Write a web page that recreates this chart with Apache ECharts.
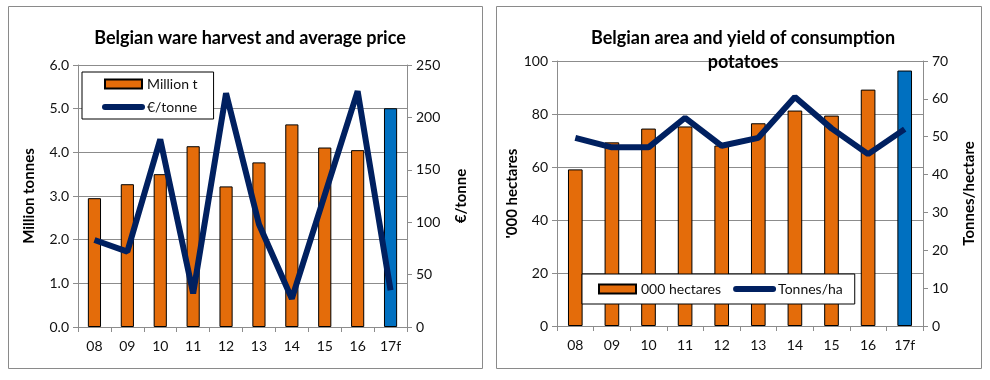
<!DOCTYPE html>
<html><head><meta charset="utf-8">
<script src="https://cdn.jsdelivr.net/npm/echarts@6/dist/echarts.min.js"></script>
<style>html,body{margin:0;padding:0;background:#fff}#c{width:990px;height:380px}</style>
</head><body><div id="c"></div>
<script>
var categories = ['08','09','10','11','12','13','14','15','16','17f'];
var harvestMt = [2.95, 3.27, 3.50, 4.14, 3.22, 3.77, 4.64, 4.11, 4.05, 5.01];
var priceEurT = [83, 72, 179, 32, 223, 98, 27, 126, 225, 35];
var areaKha = [59.1, 69.3, 74.5, 75.3, 68.1, 76.5, 81.3, 79.4, 89.2, 96.4];
var yieldTHa = [49.7, 47.2, 47.2, 55.0, 47.6, 49.7, 60.5, 52.2, 45.4, 52.0];

var ORANGE = '#E46C0A', BLUE = '#0070C0', NAVY = '#002060', GRID = '#8C8C8C', TXT = '#111';
var FONT = 'Lato, "Open Sans", sans-serif';

function barData(vals){
  return vals.map(function(v,i){
    return i === vals.length-1 ? {value:v, itemStyle:{color:BLUE}} : v;
  });
}
function xAxis(gi){
  return {type:'category', gridIndex:gi, data:categories,
    axisLine:{lineStyle:{color:GRID}}, axisTick:{show:true, length:5, interval:0, lineStyle:{color:GRID}},
    axisLabel:{color:TXT, fontSize:14, fontFamily:FONT, margin:12}};
}
function yAxis(gi, min, max, interval, name, pos, gap, fmt, split){
  return {type:'value', gridIndex:gi, min:min, max:max, interval:interval, position:pos,
    name:name, nameLocation:'middle', nameGap:gap, nameRotate:90,
    nameTextStyle:{color:'#000', fontWeight:'bold', fontSize:15, fontFamily:FONT},
    axisLine:{show:true, lineStyle:{color:GRID}}, axisTick:{show:true, length:5, lineStyle:{color:GRID}},
    axisLabel:{color:TXT, fontSize:14, fontFamily:FONT, margin:9, formatter:fmt},
    splitLine:{show:split, lineStyle:{color:GRID, width:1}}};
}
function lineLegend(name){
  return {name:name, itemStyle:{opacity:0}, lineStyle:{width:6, color:NAVY, cap:'round'}};
}
function barLegend(name){
  return {name:name, icon:'rect'};
}
var chart = echarts.init(document.getElementById('c'));
chart.setOption({
  animation:false,
  graphic:[
    {type:'rect', shape:{x:8.5,y:6.5,width:474,height:362}, style:{fill:'none', stroke:'#8a8a8a', lineWidth:1}, z:-1},
    {type:'rect', shape:{x:496.5,y:6.5,width:485,height:362}, style:{fill:'none', stroke:'#8a8a8a', lineWidth:1}, z:-1}
  ],
  title:[
    {text:'Belgian ware harvest and average price', left:245, textAlign:'center', top:21,
     textStyle:{fontSize:18, fontWeight:'bold', color:'#000', fontFamily:FONT, lineHeight:24}},
    {text:'Belgian area and yield of consumption\npotatoes', left:738, textAlign:'center', top:21,
     textStyle:{fontSize:18, fontWeight:'bold', color:'#000', fontFamily:FONT, lineHeight:24}}
  ],
  grid:[
    {left:78, right:583, top:65, bottom:53},
    {left:557, right:67, top:61, bottom:54}
  ],
  xAxis:[xAxis(0), xAxis(1)],
  yAxis:[
    yAxis(0, 0, 6, 1, 'Million tonnes', 'left', 41, function(v){return v.toFixed(1);}, true),
    yAxis(0, 0, 250, 50, '€/tonne', 'right', 47, null, false),
    yAxis(1, 0, 100, 20, "'000 hectares", 'left', 34, null, true),
    yAxis(1, 0, 70, 10, 'Tonnes/hectare', 'right', 39, null, false)
  ],
  legend:[
    {orient:'vertical', left:82, top:72, data:[barLegend('Million t'), lineLegend('€/tonne')],
     backgroundColor:'#fff', borderColor:'#000', borderWidth:1, padding:[5,16,5,20],
     itemWidth:37, itemHeight:9, itemGap:9,
     textStyle:{color:TXT, fontSize:14, fontFamily:FONT}},
    {orient:'horizontal', left:582, top:274, data:[barLegend('000 hectares'), lineLegend('Tonnes/ha')],
     backgroundColor:'#fff', borderColor:'#000', borderWidth:1, padding:[8,12,8,16],
     itemWidth:37, itemHeight:9, itemGap:12,
     textStyle:{color:TXT, fontSize:14, fontFamily:FONT}}
  ],
  series:[
    {name:'Million t', type:'bar', xAxisIndex:0, yAxisIndex:0, barWidth:'40%', data:barData(harvestMt),
     itemStyle:{color:ORANGE, borderColor:'#000', borderWidth:1}},
    {name:'€/tonne', type:'line', xAxisIndex:0, yAxisIndex:1, data:priceEurT, symbol:'none',
     lineStyle:{color:NAVY, width:6}, itemStyle:{color:NAVY}},
    {name:'000 hectares', type:'bar', xAxisIndex:1, yAxisIndex:2, barWidth:'40%', data:barData(areaKha),
     itemStyle:{color:ORANGE, borderColor:'#000', borderWidth:1}},
    {name:'Tonnes/ha', type:'line', xAxisIndex:1, yAxisIndex:3, data:yieldTHa, symbol:'none',
     lineStyle:{color:NAVY, width:6}, itemStyle:{color:NAVY}}
  ]
});
</script></body></html>
